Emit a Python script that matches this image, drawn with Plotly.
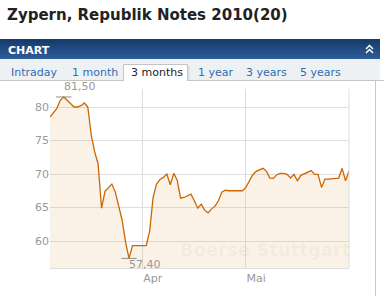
import plotly.graph_objects as go

# ---------------- data ----------------
dates = [
    "2013-03-05", "2013-03-06", "2013-03-07", "2013-03-08", "2013-03-09", "2013-03-10",
    "2013-03-11", "2013-03-12", "2013-03-13", "2013-03-14", "2013-03-15", "2013-03-16",
    "2013-03-17", "2013-03-18", "2013-03-19", "2013-03-20", "2013-03-21", "2013-03-22",
    "2013-03-23", "2013-03-24", "2013-03-25", "2013-03-26", "2013-03-27", "2013-03-28",
    "2013-03-29", "2013-03-30", "2013-03-31", "2013-04-01", "2013-04-02", "2013-04-03",
    "2013-04-04", "2013-04-05", "2013-04-06", "2013-04-07", "2013-04-08", "2013-04-09",
    "2013-04-10", "2013-04-11", "2013-04-12", "2013-04-13", "2013-04-14", "2013-04-15",
    "2013-04-16", "2013-04-17", "2013-04-18", "2013-04-19", "2013-04-20", "2013-04-21",
    "2013-04-22", "2013-04-23", "2013-04-24", "2013-04-25", "2013-04-26", "2013-04-27",
    "2013-04-28", "2013-04-29", "2013-04-30", "2013-05-01", "2013-05-02", "2013-05-03",
    "2013-05-04", "2013-05-05", "2013-05-06", "2013-05-07", "2013-05-08", "2013-05-09",
    "2013-05-10", "2013-05-11", "2013-05-12", "2013-05-13", "2013-05-14", "2013-05-15",
    "2013-05-16", "2013-05-17", "2013-05-18", "2013-05-19", "2013-05-20", "2013-05-21",
    "2013-05-22", "2013-05-23", "2013-05-24", "2013-05-25", "2013-05-26", "2013-05-27",
    "2013-05-28", "2013-05-29", "2013-05-30", "2013-05-31",
]
prices = [
    78.5, 79.2, 79.8, 81.0, 81.5, 81.0,
    80.5, 80.0, 80.0, 80.2, 80.6, 80.0,
    75.8, 73.3, 71.5, 64.9, 67.4, 68.0,
    68.5, 67.3, 65.0, 63.1, 59.8, 57.4,
    59.3, 59.3, 59.3, 59.3, 59.3, 61.5,
    66.5, 68.5, 69.2, 69.5, 70.0, 68.4,
    70.1, 69.1, 66.4, 66.5, 66.7, 67.0,
    66.0, 64.9, 65.5, 64.6, 64.2, 64.8,
    65.2, 66.0, 67.3, 67.6, 67.5, 67.5,
    67.5, 67.5, 67.5, 68.0, 69.0, 69.9,
    70.4, 70.6, 70.85, 70.4, 69.4, 69.35,
    69.9, 70.1, 70.1, 69.95, 69.4, 69.95,
    69.0, 69.8, 70.05, 70.2, 70.5, 69.95,
    69.95, 68.0, 69.25, 69.25, 69.3, 69.35,
    69.4, 70.85, 69.0, 70.45,
]
y_ticks = [60, 65, 70, 75, 80]
x_tick_dates = ["2013-04-01", "2013-05-01"]
x_tick_labels = ["Apr", "Mai"]
tab_labels = ["Intraday", "1 month", "3 months", "1 year", "3 years", "5 years"]
active_tab = "3 months"
title_text = "Zypern, Republik Notes 2010(20)"
watermark = "Boerse Stuttgart"

# ---------------- layout helpers ----------------
W, H = 384, 296
L, R, T, B = 50, 35, 89, 28
PW, PH = W - L - R, H - T - B


def px(x):
    return (x - L) / PW


def py(y):
    return (H - B - y) / PH


FONT = "DejaVu Sans"
GRID = "#dedede"
LINE = "#cc6600"

imax = max(range(len(prices)), key=lambda i: prices[i])
imin = min(range(len(prices)), key=lambda i: prices[i])


def fmt(v):
    return f"{v:.2f}".replace(".", ",")


fig = go.Figure()
fig.add_trace(go.Scatter(
    x=dates, y=prices, mode="lines",
    line=dict(color=LINE, width=1.3),
    fill="tozeroy", fillcolor="rgba(222,168,88,0.15)",
    hoverinfo="skip", showlegend=False,
))
fig.add_trace(go.Scatter(
    x=[dates[imax], dates[imin]], y=[prices[imax], prices[imin]], mode="markers",
    marker=dict(symbol="line-ew", size=11, line=dict(color="#8c8c8c", width=1)),
    hoverinfo="skip", showlegend=False, cliponaxis=False,
))

shapes = []
# blue header bar (gradient via strips)
top_c = (22, 60, 110)
bot_c = (46, 92, 150)
n = 10
y0, y1 = 39, 59
for k in range(n):
    t = k / (n - 1)
    c = tuple(int(top_c[j] + (bot_c[j] - top_c[j]) * t) for j in range(3))
    ya = y0 + (y1 - y0) * k / n
    yb = y0 + (y1 - y0) * (k + 1) / n
    shapes.append(dict(type="rect", xref="paper", yref="paper",
                       x0=px(0), x1=px(380), y0=py(yb), y1=py(ya),
                       fillcolor="rgb(%d,%d,%d)" % c, line=dict(width=0), layer="below"))
# tab row background
shapes.append(dict(type="rect", xref="paper", yref="paper",
                   x0=px(0), x1=px(380), y0=py(80.5), y1=py(59),
                   fillcolor="#eef1f4", line=dict(width=0), layer="below"))
# active tab
shapes.append(dict(type="rect", xref="paper", yref="paper",
                   x0=px(123), x1=px(188), y0=py(81), y1=py(64),
                   fillcolor="white", line=dict(width=0), layer="below"))
shapes.append(dict(type="path", xref="paper", yref="paper",
                   path=f"M {px(123.5)} {py(81)} L {px(123.5)} {py(64.5)} L {px(187.5)} {py(64.5)} L {px(187.5)} {py(81)}",
                   line=dict(color="#c4c4c4", width=1)))
shapes.append(dict(type="line", xref="paper", yref="paper",
                   x0=px(189), x1=px(189), y0=py(80), y1=py(66),
                   line=dict(color="#dcdcdc", width=1.5)))
# tab row bottom border
for xa, xb in [(0, 123.5), (187.5, 384)]:
    shapes.append(dict(type="line", xref="paper", yref="paper",
                       x0=px(xa), x1=px(xb), y0=py(80.5), y1=py(80.5),
                       line=dict(color="#c4c4c4", width=1)))
# panel right border
shapes.append(dict(type="line", xref="paper", yref="paper",
                   x0=px(375.5), x1=px(375.5), y0=py(80.5), y1=py(296),
                   line=dict(color="#c8c8c8", width=1)))
# plot right border
shapes.append(dict(type="line", xref="paper", yref="paper",
                   x0=1, x1=1, y0=0, y1=1, line=dict(color=GRID, width=1)))
# chevrons
cx = 369.5
path = (f"M {px(cx-3.5)} {py(49)} L {px(cx)} {py(45.5)} L {px(cx+3.5)} {py(49)} "
        f"M {px(cx-3.5)} {py(53)} L {px(cx)} {py(49.5)} L {px(cx+3.5)} {py(53)}")
shapes.append(dict(type="path", xref="paper", yref="paper", path=path,
                   line=dict(color="white", width=1.5)))

annotations = []
annotations.append(dict(xref="paper", yref="paper", x=px(5), y=py(15.5), text=f"<b>{title_text}</b>",
                        showarrow=False, xanchor="left", yanchor="middle",
                        font=dict(family=FONT, size=15, color="#222222")))
annotations.append(dict(xref="paper", yref="paper", x=px(6), y=py(50), text="<b>CHART</b>",
                        showarrow=False, xanchor="left", yanchor="middle",
                        font=dict(family=FONT, size=11, color="white")))
tab_x = [9, 70, 129, 196, 244, 298]
for lab, xx in zip(tab_labels, tab_x):
    annotations.append(dict(xref="paper", yref="paper", x=px(xx), y=py(72.5), text=lab,
                            showarrow=False, xanchor="left", yanchor="middle",
                            font=dict(family=FONT, size=11,
                                      color="#222222" if lab == active_tab else "#2f6db0")))
annotations.append(dict(xref="paper", yref="paper", x=px(265), y=py(249), text=f"<b>{watermark}</b>",
                        showarrow=False, xanchor="center", yanchor="middle",
                        font=dict(family=FONT, size=18, color="rgba(150,120,80,0.06)")))
annotations.append(dict(x=dates[imax], y=prices[imax], text=fmt(prices[imax]),
                        showarrow=False, xanchor="left", yanchor="bottom", yshift=3, xshift=-1,
                        borderpad=0,
                        font=dict(family=FONT, size=11, color="#999999")))
annotations.append(dict(x=dates[imin], y=prices[imin], text=fmt(prices[imin]),
                        showarrow=False, xanchor="left", yanchor="top", yshift=1.5, xshift=-1,
                        borderpad=0,
                        font=dict(family=FONT, size=11, color="#999999")))

fig.update_layout(
    width=W, height=H,
    margin=dict(l=L, r=R, t=T, b=B, pad=0),
    paper_bgcolor="white", plot_bgcolor="white",
    shapes=shapes, annotations=annotations,
    xaxis=dict(type="date", range=["2013-03-05", "2013-05-31"],
               tickvals=x_tick_dates, ticktext=x_tick_labels,
               showgrid=True, gridcolor=GRID, gridwidth=1,
               showline=True, linecolor=GRID, linewidth=1,
               ticks="", ticklen=0, ticklabelposition="outside right",
               tickfont=dict(family=FONT, size=11, color="#999999"),
               zeroline=False, fixedrange=True),
    yaxis=dict(range=[55.97, 82.69], tickvals=y_ticks,
               showgrid=True, gridcolor=GRID, gridwidth=1,
               ticks="", zeroline=False, showline=False,
               tickfont=dict(family=FONT, size=11, color="#999999"),
               fixedrange=True),
    showlegend=False,
)

fig.write_html("out.html")
